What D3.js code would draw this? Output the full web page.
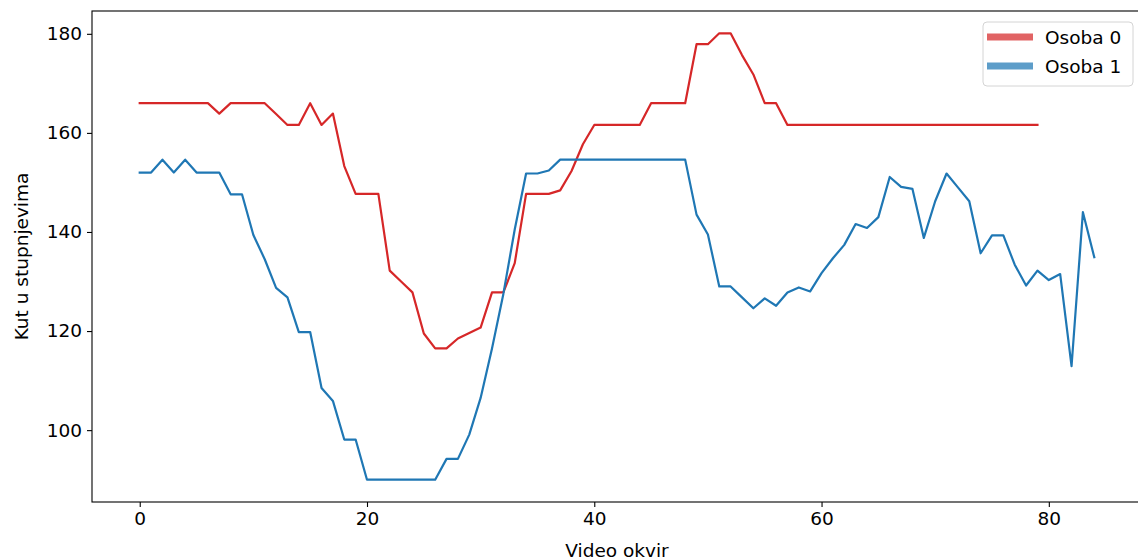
<!DOCTYPE html>
<html>
<head>
<meta charset="utf-8">
<script src="https://cdn.jsdelivr.net/npm/d3@7"></script>
<style>
  body { margin: 0; background: #fff; }
  svg text { font-family: "DejaVu Sans", sans-serif; fill: #000; }
</style>
</head>
<body>
<div id="chart"></div>
<script>
const seriesNames = ['Osoba 0', 'Osoba 1']
const seriesColors = ['#d62728', '#1f77b4']

// kut po okviru, osoba 0 (okviri 0..79)
const osoba0 = [
  166, 166, 166, 166, 166, 166, 166, 163.9, 166, 166,
  166, 166, 163.8, 161.6, 161.6, 166, 161.6, 163.9, 153.3, 147.7,
  147.7, 147.7, 132.2, 130.0, 127.8, 119.5, 116.5, 116.5, 118.5, 119.6,
  120.7, 127.8, 127.8, 133.7, 147.7, 147.7, 147.7, 148.4, 152.3, 157.7,
  161.6, 161.6, 161.6, 161.6, 161.6, 166, 166, 166, 166, 177.9,
  177.9, 180.1, 180.1, 175.7, 171.8, 166, 166, 161.6, 161.6, 161.6,
  161.6, 161.6, 161.6, 161.6, 161.6, 161.6, 161.6, 161.6, 161.6, 161.6,
  161.6, 161.6, 161.6, 161.6, 161.6, 161.6, 161.6, 161.6, 161.6, 161.6
]

// kut po okviru, osoba 1 (okviri 0..84)
const osoba1 = [
  152, 152, 154.6, 152, 154.6, 152, 152, 152, 147.6, 147.6,
  139.4, 134.5, 128.7, 126.8, 119.8, 119.8, 108.5, 105.9, 98.1, 98.1,
  90, 90, 90, 90, 90, 90, 90, 94.2, 94.2, 99.1,
  106.5, 116.5, 127.5, 140.5, 151.8, 151.8, 152.4, 154.6, 154.6, 154.6,
  154.6, 154.6, 154.6, 154.6, 154.6, 154.6, 154.6, 154.6, 154.6, 143.5,
  139.5, 129, 129, 126.8, 124.6, 126.6, 125.1, 127.8, 128.8, 128,
  131.7, 134.7, 137.4, 141.6, 140.8, 143, 151.1, 149.1, 148.7, 138.8,
  146.2, 151.8, 149, 146.2, 135.7, 139.3, 139.3, 133.4, 129.2, 132.2,
  130.3, 131.5, 112.9, 144, 134.9
]

const xTicks = [0, 20, 40, 60, 80]
const yTicks = [100, 120, 140, 160, 180]

const W = 1138, H = 560
const box = { left: 92, top: 11, right: 1142, bottom: 502 }

const svg = d3.select('#chart')
  .append('svg')
  .attr('width', W)
  .attr('height', H)

const series = [osoba0, osoba1]

// matplotlib-style 5% margins around the data
const xMax = d3.max(series, s => s.length - 1)
const yMin = d3.min(series, s => d3.min(s))
const yMax = d3.max(series, s => d3.max(s))
const xPad = xMax * 0.05
const yPad = (yMax - yMin) * 0.05

const xScale = d3.scaleLinear()
  .domain([-xPad, xMax + xPad])
  .range([box.left, box.right])

const yScale = d3.scaleLinear()
  .domain([yMin - yPad, yMax + yPad])
  .range([box.bottom, box.top])

/* lines */
const line = d3.line()
  .x((d, i) => xScale(i))
  .y(d => yScale(d))

svg.append('g')
  .selectAll('path')
  .data(series)
  .enter()
  .append('path')
  .attr('d', d => line(d))
  .attr('fill', 'none')
  .attr('stroke', (d, i) => seriesColors[i])
  .attr('stroke-width', 2.2)
  .attr('stroke-linejoin', 'round')
  .attr('stroke-linecap', 'square')

/* spines */
svg.append('rect')
  .attr('x', box.left)
  .attr('y', box.top)
  .attr('width', box.right - box.left)
  .attr('height', box.bottom - box.top)
  .attr('fill', 'none')
  .attr('stroke', '#000')
  .attr('stroke-width', 1.1)

/* X axis */
const xAxis = d3.axisBottom(xScale)
  .tickValues(xTicks)
  .tickSize(5)
  .tickPadding(5)
  .tickFormat(d3.format('d'))

const gx = svg.append('g')
  .attr('transform', `translate(0, ${box.bottom})`)
  .call(xAxis)
gx.select('.domain').remove()
gx.selectAll('line').attr('stroke', '#000').attr('stroke-width', 1.1)
gx.selectAll('text')
  .style('font-size', '18.5px')
  .style('font-family', '"DejaVu Sans", sans-serif')
  .attr('fill', '#000')

/* Y axis */
const yAxis = d3.axisLeft(yScale)
  .tickValues(yTicks)
  .tickSize(5)
  .tickPadding(5)
  .tickFormat(d3.format('d'))

const gy = svg.append('g')
  .attr('transform', `translate(${box.left}, 0)`)
  .call(yAxis)
gy.select('.domain').remove()
gy.selectAll('line').attr('stroke', '#000').attr('stroke-width', 1.1)
gy.selectAll('text')
  .style('font-size', '18.5px')
  .style('font-family', '"DejaVu Sans", sans-serif')
  .attr('fill', '#000')

// axis labels
svg.append('text')
  .attr('x', (box.left + box.right) / 2)
  .attr('y', 557)
  .style('text-anchor', 'middle')
  .style('font-size', '18.5px')
  .text('Video okvir')

svg.append('text')
  .attr('transform', `translate(28, ${(box.top + box.bottom) / 2}) rotate(-90)`)
  .style('text-anchor', 'middle')
  .style('font-size', '18.5px')
  .text('Kut u stupnjevima')

/* legend */
const legend = svg.append('g')
  .attr('transform', 'translate(983, 22)')

legend.append('rect')
  .attr('width', 150)
  .attr('height', 64)
  .attr('rx', 4)
  .attr('fill', '#fff')
  .attr('fill-opacity', 0.8)
  .attr('stroke', '#d4d4d4')
  .attr('stroke-width', 1)

const items = legend.selectAll('g.item')
  .data(seriesNames)
  .enter()
  .append('g')
  .attr('class', 'item')
  .attr('transform', (d, i) => `translate(0, ${15 + i * 29})`)

items.append('line')
  .attr('x1', 4)
  .attr('x2', 50)
  .attr('stroke', (d, i) => seriesColors[i])
  .attr('stroke-opacity', 0.72)
  .attr('stroke-width', 7)

items.append('text')
  .attr('x', 62)
  .attr('y', 7)
  .style('font-size', '18.5px')
  .text(d => d)
</script>
</body>
</html>
